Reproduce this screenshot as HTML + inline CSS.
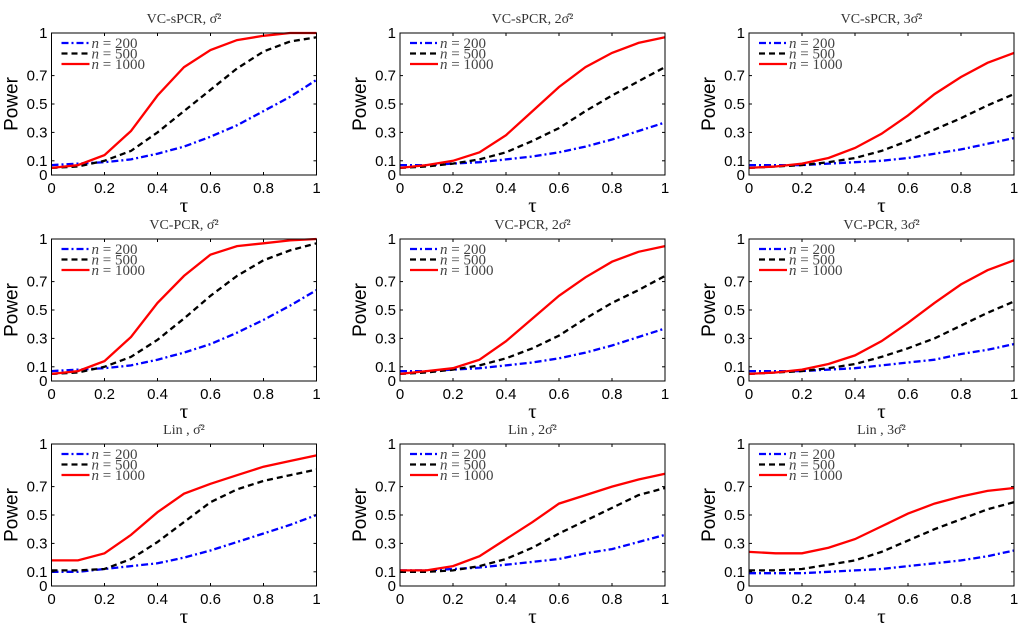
<!DOCTYPE html>
<html><head><meta charset="utf-8"><style>
body{margin:0;background:#fff;}
svg{display:block;font-family:"Liberation Sans",sans-serif;}
</style></head><body>
<svg id="fig" width="1024" height="627" viewBox="0 0 1024 627"></svg>
<script>
const xs=[0,0.1,0.2,0.3,0.4,0.5,0.6,0.7,0.8,0.9,1];
const xTicks=[0,0.2,0.4,0.6,0.8,1];
const xTickLabels=["0","0.2","0.4","0.6","0.8","1"];
const yTicks=[0,0.1,0.3,0.5,0.7,1];
const yTickLabels=["0","0.1","0.3","0.5","0.7","1"];
const titles=["VC-sPCR, σ̂²","VC-sPCR, 2σ̂²","VC-sPCR, 3σ̂²","VC-PCR, σ̂²","VC-PCR, 2σ̂²","VC-PCR, 3σ̂²","Lin , σ̂²","Lin , 2σ̂²","Lin , 3σ̂²"];
const blue=[
[0.07,0.08,0.09,0.11,0.15,0.20,0.27,0.35,0.45,0.55,0.67],
[0.07,0.07,0.08,0.09,0.11,0.13,0.16,0.20,0.25,0.31,0.37],
[0.07,0.07,0.07,0.08,0.09,0.10,0.12,0.15,0.18,0.22,0.26],
[0.07,0.08,0.09,0.11,0.15,0.20,0.26,0.34,0.43,0.53,0.64],
[0.07,0.07,0.08,0.09,0.11,0.13,0.16,0.20,0.25,0.31,0.37],
[0.07,0.07,0.07,0.08,0.09,0.11,0.13,0.15,0.19,0.22,0.26],
[0.10,0.10,0.12,0.14,0.16,0.20,0.25,0.31,0.37,0.43,0.50],
[0.11,0.11,0.12,0.13,0.15,0.17,0.19,0.23,0.26,0.31,0.36],
[0.09,0.09,0.09,0.10,0.11,0.12,0.14,0.16,0.18,0.21,0.25]];
const black=[
[0.05,0.06,0.10,0.17,0.30,0.45,0.60,0.75,0.87,0.94,0.97],
[0.05,0.06,0.08,0.11,0.16,0.24,0.33,0.45,0.56,0.66,0.76],
[0.05,0.06,0.07,0.09,0.12,0.17,0.24,0.32,0.40,0.49,0.57],
[0.05,0.06,0.10,0.17,0.29,0.44,0.60,0.74,0.85,0.92,0.97],
[0.05,0.06,0.08,0.11,0.16,0.23,0.32,0.44,0.55,0.64,0.74],
[0.05,0.06,0.07,0.09,0.12,0.17,0.23,0.30,0.39,0.48,0.56],
[0.11,0.11,0.12,0.19,0.31,0.45,0.59,0.68,0.74,0.78,0.82],
[0.10,0.10,0.11,0.14,0.19,0.27,0.37,0.46,0.55,0.64,0.69],
[0.11,0.11,0.12,0.15,0.18,0.24,0.32,0.40,0.47,0.54,0.59]];
const red=[
[0.05,0.07,0.14,0.31,0.56,0.76,0.88,0.95,0.98,1.0,1.0],
[0.05,0.07,0.10,0.16,0.28,0.45,0.62,0.76,0.86,0.93,0.97],
[0.05,0.06,0.08,0.12,0.19,0.29,0.42,0.57,0.69,0.79,0.86],
[0.05,0.07,0.14,0.31,0.55,0.74,0.89,0.95,0.97,0.99,1.0],
[0.05,0.07,0.09,0.15,0.28,0.44,0.60,0.73,0.84,0.91,0.95],
[0.05,0.06,0.08,0.12,0.18,0.28,0.41,0.55,0.68,0.78,0.85],
[0.18,0.18,0.23,0.36,0.52,0.65,0.72,0.78,0.84,0.88,0.92],
[0.11,0.11,0.14,0.21,0.33,0.45,0.58,0.64,0.70,0.75,0.79],
[0.24,0.23,0.23,0.27,0.33,0.42,0.51,0.58,0.63,0.67,0.69]];
const legendLabels=["200","500","1000"];

const NS="http://www.w3.org/2000/svg";
const svg=document.getElementById('fig');
function mk(tag,attrs,parent){const e=document.createElementNS(NS,tag);for(const k in attrs)e.setAttribute(k,attrs[k]);(parent||svg).appendChild(e);return e;}
const colX=[51.5,400,749], rowY=[33,239,444], W=265, H=142;
const series=[{d:blue,c:"#0000ff",dash:"7,3,2,3",nm:"n-200"},{d:black,c:"#000",dash:"6,4",nm:"n-500"},{d:red,c:"#ff0000",dash:"",nm:"n-1000"}];
for(let p=0;p<9;p++){
  const L=colX[p%3], T=rowY[Math.floor(p/3)];
  const g=mk('g',{});
  
  
  const sx=v=>L+v*W, sy=v=>T+H-v*H;
  mk('rect',{x:L,y:T,width:W,height:H,fill:'#fff',stroke:'none'},g);
  series.forEach(s=>{
    const pts=xs.map((x,i)=>sx(x).toFixed(1)+','+sy(s.d[p][i]).toFixed(1)).join(' ');
    const pl=mk('polyline',{points:pts,fill:'none',stroke:s.c,'stroke-width':2.3,'stroke-dasharray':s.dash},g);
    
    
  });
  mk('rect',{x:L,y:T,width:W,height:H,fill:'none',stroke:'#000','stroke-width':1},g);
  xTicks.forEach((t,i)=>{
    mk('line',{x1:sx(t),x2:sx(t),y1:T+H,y2:T+H-3,stroke:'#000'},g);
    mk('line',{x1:sx(t),x2:sx(t),y1:T,y2:T+3,stroke:'#000'},g);
    const tx=mk('text',{x:sx(t),y:T+H+18,'text-anchor':'middle','font-size':15},g);tx.textContent=xTickLabels[i];
    
    
  });
  yTicks.forEach((t,i)=>{
    mk('line',{x1:L,x2:L+3,y1:sy(t),y2:sy(t),stroke:'#000'},g);
    mk('line',{x1:L+W,x2:L+W-3,y1:sy(t),y2:sy(t),stroke:'#000'},g);
    const tx=mk('text',{x:L-4,y:sy(t)+5,'text-anchor':'end','font-size':15},g);tx.textContent=yTickLabels[i];
    
    
  });
  const xl=mk('text',{x:L+W/2,y:T+H+37,'text-anchor':'middle','font-size':21,'font-family':'Liberation Serif, serif'},g);xl.textContent='τ';
  
  
  const yl=mk('text',{x:0,y:0,'text-anchor':'middle','font-size':19,transform:`translate(${L-34},${T+H/2}) rotate(-90)`},g);yl.textContent='Power';
  
  
  const tt=mk('text',{x:L+W/2,y:T-10,'text-anchor':'middle','font-size':14,fill:'#333','font-family':'Liberation Serif, serif'},g);tt.textContent=titles[p];
  
  
  series.forEach((s,k)=>{
    const yy=T+10+k*10.5;
    mk('line',{x1:L+10,x2:L+38,y1:yy,y2:yy,stroke:s.c,'stroke-width':2.3,'stroke-dasharray':s.dash},g);
    const lt=mk('text',{x:L+40,y:yy+5,'font-size':15,'font-family':'Liberation Serif, serif',fill:'#444'},g);
    lt.innerHTML='<tspan font-style="italic">n</tspan> = '+legendLabels[k];
    
    
  });
}
</script>
</body></html>
